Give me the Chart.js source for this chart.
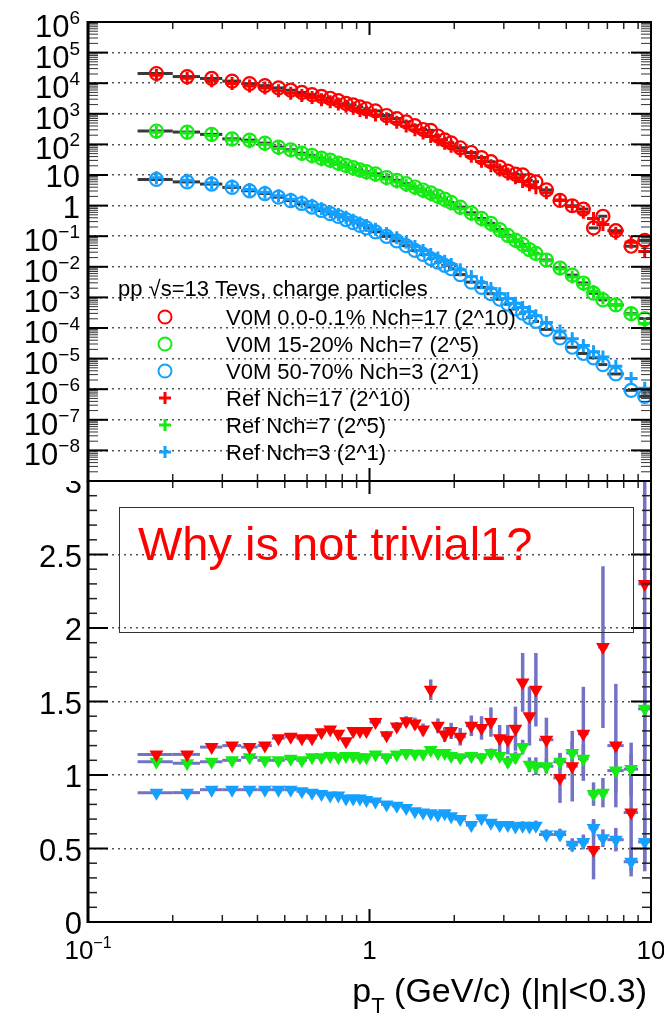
<!DOCTYPE html>
<html>
<head>
<meta charset="utf-8">
<title>pp 13 TeV charged particle spectra</title>
<script src="https://cdn.jsdelivr.net/npm/chart.js@4.4.0/dist/chart.umd.min.js"></script>
<style>
  html, body { margin: 0; padding: 0; background: #fff; }
  #wrap { position: relative; width: 664px; height: 1016px; overflow: hidden; }
  #wrap canvas { position: absolute; left: 0; }
  #spectra { top: 0; z-index: 2; }
  #ratio { top: 481px; z-index: 1; }
</style>
</head>
<body>
<div id="wrap">
  <canvas id="spectra" width="664" height="482"></canvas>
  <canvas id="ratio" width="664" height="535"></canvas>
</div>
<script>
const FONT = '"Liberation Sans", Arial, Helvetica, sans-serif';

// --- pT binning (GeV/c) ---
const ptEdges = [0.15, 0.2, 0.25, 0.3, 0.35, 0.4, 0.45, 0.5, 0.55, 0.6, 0.65, 0.7, 0.75, 0.8, 0.85, 0.9, 0.95, 1.0,
  1.1, 1.2, 1.3, 1.4, 1.5, 1.6, 1.7, 1.8, 1.9, 2.0, 2.2, 2.4, 2.6, 2.8, 3.0, 3.2, 3.4, 3.6, 3.8, 4.0,
  4.5, 5.0, 5.5, 6.0, 6.5, 7.0, 8.0, 9.0, 10.0];
const ptCenters = [0.175, 0.225, 0.275, 0.325, 0.375, 0.425, 0.475, 0.525, 0.575, 0.625, 0.675, 0.725, 0.775, 0.825, 0.875, 0.925, 0.975,
  1.05, 1.15, 1.25, 1.35, 1.45, 1.55, 1.65, 1.75, 1.85, 1.95,
  2.1, 2.3, 2.5, 2.7, 2.9, 3.1, 3.3, 3.5, 3.7, 3.9,
  4.25, 4.75, 5.25, 5.75, 6.25, 6.75, 7.5, 8.5, 9.5];

// --- spectra, V0M classes (scaled by 2^10, 2^5, 2^1) ---
const v0mHigh = [20750, 16470, 14300, 11720, 9670, 8300, 7030, 5900, 4980, 4240, 3720, 3220, 2680, 2190, 1960, 1680, 1460,
  1240, 879, 698, 543, 408, 307, 288, 188, 140, 113,
  77.7, 54.3, 37.2, 27.2, 18.1, 13.3, 10.7, 10.1, 6.71, 6.00,
  3.26, 1.48, 0.989, 0.772, 0.186, 0.449, 0.151, 0.0470, 0.0727];
const v0mMid = [274, 253, 213, 152, 138, 110, 81.5, 66.9, 51.5, 43.6, 35.4, 30.4, 24.5, 20.6, 17.5, 14.8, 12.9,
  10.9, 8.30, 6.71, 5.26, 4.06, 3.23, 2.62, 2.05, 1.62, 1.27,
  0.889, 0.580, 0.380, 0.263, 0.165, 0.107, 0.0747, 0.0538, 0.0367, 0.0276,
  0.0167, 0.00915, 0.00533, 0.00296, 0.00137, 0.00083, 0.000567, 0.000293, 0.000204];
const v0mLow = [7.15, 5.95, 5.06, 3.93, 3.05, 2.48, 1.88, 1.46, 1.17, 0.898, 0.691, 0.543, 0.441, 0.350, 0.278, 0.226, 0.186,
  0.139, 0.0984, 0.0704, 0.0489, 0.0344, 0.0253, 0.0186, 0.0142, 0.0112, 0.00864,
  0.00556, 0.00316, 0.00213, 0.00132, 0.000871, 0.000602, 0.000420, 0.000307, 0.000220, 0.000164,
  0.0000898, 0.0000472, 0.0000235, 0.0000147, 0.0000106, 0.00000638, 0.00000315, 0.000000918, 0.000000583];

// --- reference spectra at the same Nch ---
const refHigh = [18200, 14450, 12020, 9770, 8130, 6920, 5620, 4680, 3980, 3390, 2880, 2455, 2090, 1780, 1510, 1290, 1120,
  912, 692, 525, 398, 302, 234, 182, 141, 110, 87,
  61.7, 40.7, 28.2, 20.0, 14.5, 10.7, 8.13, 6.17, 4.79, 3.80,
  2.63, 1.51, 0.933, 0.603, 0.380, 0.240, 0.126, 0.0631, 0.0316];
const refMid = [251, 234, 195, 138, 123, 100, 74.1, 60.3, 46.8, 38.9, 31.6, 26.9, 21.9, 18.2, 15.5, 13.2, 11.5,
  9.55, 7.41, 5.89, 4.57, 3.55, 2.82, 2.24, 1.78, 1.41, 1.12,
  0.794, 0.513, 0.339, 0.229, 0.145, 0.0986, 0.0667, 0.0452, 0.0343, 0.0260,
  0.0157, 0.0084, 0.00463, 0.00266, 0.00157, 0.00095, 0.00055, 0.000282, 0.000141];
const refLow = [8.13, 6.76, 5.62, 4.37, 3.39, 2.75, 2.09, 1.62, 1.32, 1.02, 0.794, 0.631, 0.513, 0.417, 0.331, 0.269, 0.224,
  0.170, 0.123, 0.0891, 0.0631, 0.0457, 0.0339, 0.0251, 0.0195, 0.0151, 0.0120,
  0.00794, 0.00479, 0.00302, 0.00195, 0.00132, 0.000912, 0.000646, 0.000468, 0.000339, 0.000251,
  0.000151, 0.0000794, 0.0000447, 0.0000269, 0.0000166, 0.0000112, 0.00000562, 0.00000224, 0.00000107];

// --- ratios V0M / Ref with errors ---
const ratioHigh = [1.14, 1.14, 1.19, 1.20, 1.19, 1.20, 1.25, 1.26, 1.25, 1.25, 1.29, 1.31, 1.28, 1.23, 1.30, 1.30, 1.30,
  1.36, 1.27, 1.33, 1.365, 1.35, 1.31, 1.58, 1.335, 1.275, 1.30,
  1.26, 1.335, 1.32, 1.36, 1.25, 1.24, 1.315, 1.63, 1.40, 1.58,
  1.24, 0.98, 1.06, 1.28, 0.49, 1.87, 1.20, 0.745, 2.30];
const ratioHighErr = [0.01, 0.01, 0.01, 0.01, 0.01, 0.01, 0.015, 0.015, 0.015, 0.015, 0.02, 0.02, 0.02, 0.02, 0.02, 0.025, 0.025,
  0.03, 0.03, 0.03, 0.035, 0.04, 0.04, 0.07, 0.05, 0.05, 0.055,
  0.06, 0.07, 0.08, 0.10, 0.09, 0.10, 0.15, 0.20, 0.20, 0.25,
  0.15, 0.17, 0.24, 0.32, 0.20, 0.55, 0.42, 0.40, 1.9];
const ratioMid = [1.09, 1.08, 1.09, 1.10, 1.12, 1.10, 1.10, 1.11, 1.10, 1.12, 1.12, 1.13, 1.12, 1.13, 1.13, 1.12, 1.12,
  1.14, 1.12, 1.14, 1.15, 1.145, 1.145, 1.17, 1.15, 1.15, 1.13,
  1.12, 1.13, 1.12, 1.15, 1.13, 1.09, 1.12, 1.19, 1.07, 1.06,
  1.06, 1.09, 1.15, 1.11, 0.87, 0.88, 1.03, 1.04, 1.45];
const ratioMidErr = [0.005, 0.005, 0.005, 0.005, 0.005, 0.005, 0.005, 0.005, 0.005, 0.006, 0.006, 0.006, 0.007, 0.007, 0.007, 0.008, 0.008,
  0.01, 0.01, 0.01, 0.012, 0.012, 0.014, 0.015, 0.016, 0.018, 0.02,
  0.02, 0.025, 0.03, 0.03, 0.035, 0.04, 0.04, 0.05, 0.05, 0.06,
  0.05, 0.06, 0.08, 0.10, 0.08, 0.10, 0.15, 0.18, 0.35];
const ratioLow = [0.88, 0.88, 0.90, 0.90, 0.90, 0.90, 0.90, 0.90, 0.89, 0.88, 0.87, 0.86, 0.86, 0.84, 0.84, 0.84, 0.83,
  0.82, 0.80, 0.79, 0.775, 0.753, 0.745, 0.74, 0.73, 0.74, 0.72,
  0.70, 0.66, 0.705, 0.675, 0.66, 0.66, 0.65, 0.655, 0.65, 0.655,
  0.595, 0.595, 0.525, 0.545, 0.64, 0.57, 0.56, 0.41, 0.545];
const ratioLowErr = [0.004, 0.004, 0.004, 0.004, 0.004, 0.004, 0.004, 0.004, 0.004, 0.005, 0.005, 0.005, 0.005, 0.005, 0.006, 0.006, 0.006,
  0.007, 0.007, 0.008, 0.008, 0.009, 0.01, 0.01, 0.011, 0.012, 0.013,
  0.014, 0.016, 0.018, 0.02, 0.022, 0.025, 0.028, 0.03, 0.032, 0.035,
  0.035, 0.04, 0.045, 0.05, 0.06, 0.06, 0.08, 0.10, 0.20];

// --- axis ticks and texts ---
const spectraTicks = [1e6, 1e5, 1e4, 1e3, 1e2, 10, 1, 1e-1, 1e-2, 1e-3, 1e-4, 1e-5, 1e-6, 1e-7, 1e-8];
const spectraTickLabels = ['10^6', '10^5', '10^4', '10^3', '10^2', '10', '1', '10^-1', '10^-2', '10^-3', '10^-4', '10^-5', '10^-6', '10^-7', '10^-8'];
const ratioTicks = [0, 0.5, 1, 1.5, 2, 2.5, 3];
const ratioTickLabels = ['0', '0.5', '1', '1.5', '2', '2.5', '3'];
const ptTicks = [0.1, 1, 10];
const ptTickLabels = ['10^-1', '1', '10'];

const legendHeader = 'pp \u221As=13 Tevs, charge particles';
const legendLabels = ['V0M 0.0-0.1% Nch=17 (2^10)', 'V0M 15-20% Nch=7 (2^5)', 'V0M 50-70% Nch=3 (2^1)',
  'Ref Nch=17 (2^10)', 'Ref Nch=7 (2^5)', 'Ref Nch=3 (2^1)'];
const noteText = 'Why is not trivial1?';

const RED = '#ff0000';
const GREEN = 'rgb(20,235,20)';
const BLUE = 'rgb(20,160,255)';
const ERRCOL = 'rgb(115,115,198)';

function pts(vals) {
  return ptCenters.map((x, i) => ({ x: x, y: vals[i] }));
}

// minor ticks 2..9 x 10^n between lo and hi
function logMinors(lo, hi) {
  const out = [];
  for (let e = Math.floor(Math.log10(lo)); e <= Math.ceil(Math.log10(hi)); e++) {
    for (let k = 2; k <= 9; k++) {
      const v = k * Math.pow(10, e);
      if (v > lo && v < hi) out.push(v);
    }
  }
  return out;
}

function seg(ctx, x0, y0, x1, y1) {
  ctx.beginPath();
  ctx.moveTo(x0, y0);
  ctx.lineTo(x1, y1);
  ctx.stroke();
}

// "10^-3" -> 10 with raised exponent
function powerLabel(ctx, text, x, y, size, align) {
  const parts = text.split('^');
  const base = parts[0];
  const exp = parts.length > 1 ? parts[1].replace('-', '\u2212') : '';
  const sup = Math.round(size * 0.6);
  ctx.font = size + 'px ' + FONT;
  const wb = ctx.measureText(base).width;
  ctx.font = sup + 'px ' + FONT;
  const we = exp ? ctx.measureText(exp).width : 0;
  const x0 = align === 'right' ? x - wb - we : x - (wb + we) / 2;
  ctx.textAlign = 'left';
  ctx.textBaseline = 'alphabetic';
  ctx.font = size + 'px ' + FONT;
  ctx.fillText(base, x0, y);
  if (exp) {
    ctx.font = sup + 'px ' + FONT;
    ctx.fillText(exp, x0 + wb, y - size * 0.42);
  }
}

function drawXTicks(ctx, xs, yEdge, dir) {
  ctx.strokeStyle = '#222';
  ctx.lineWidth = 1.5;
  logMinors(0.1, 10).forEach(v => {
    const px = xs.getPixelForValue(v);
    seg(ctx, px, yEdge, px, yEdge + dir * 7);
  });
  ctx.strokeStyle = '#000';
  ctx.lineWidth = 2;
  const p1 = xs.getPixelForValue(1);
  seg(ctx, p1, yEdge, p1, yEdge + dir * 13);
}

function drawFrame(ctx, a) {
  ctx.strokeStyle = '#000';
  ctx.lineWidth = 2;
  ctx.strokeRect(a.left, a.top, a.right - a.left, a.bottom - a.top);
  ctx.lineWidth = 3;
  seg(ctx, a.left, a.top - 1, a.left, a.bottom + 1);
}

// bin-width (x) and statistical (y) error bars, drawn under the markers
const errorBars = {
  id: 'errorBars',
  beforeDatasetsDraw(chart) {
    const { ctx, chartArea: a } = chart;
    const xs = chart.scales.x, ys = chart.scales.y;
    ctx.save();
    ctx.beginPath();
    ctx.rect(a.left, a.top, a.right - a.left, a.bottom - a.top);
    ctx.clip();
    chart.data.datasets.forEach(ds => {
      const eb = ds.errorBars;
      if (!eb) return;
      ctx.strokeStyle = eb.color;
      ds.data.forEach((p, i) => {
        const px = xs.getPixelForValue(p.x);
        const py = ys.getPixelForValue(p.y);
        if (eb.xEdges) {
          ctx.lineWidth = eb.xWidth;
          seg(ctx, xs.getPixelForValue(eb.xEdges[i]), py, xs.getPixelForValue(eb.xEdges[i + 1]), py);
        }
        if (eb.yErr) {
          ctx.lineWidth = eb.yWidth;
          seg(ctx, px, ys.getPixelForValue(p.y - eb.yErr[i]), px, ys.getPixelForValue(p.y + eb.yErr[i]));
        }
      });
    });
    ctx.restore();
  }
};

// frame, inward ticks, labels and legend of the spectra pad
const spectraDecor = {
  id: 'spectraDecor',
  afterDraw(chart) {
    const { ctx, chartArea: a } = chart;
    const xs = chart.scales.x, ys = chart.scales.y;
    ctx.save();
    // y minor ticks
    ctx.strokeStyle = '#333';
    ctx.lineWidth = 1;
    logMinors(1e-9, 1e6).forEach(v => {
      const py = ys.getPixelForValue(v);
      seg(ctx, a.left, py, a.left + 10, py);
      seg(ctx, a.right - 10, py, a.right, py);
    });
    // y major ticks
    ctx.strokeStyle = '#000';
    ctx.lineWidth = 2;
    spectraTicks.forEach(v => {
      const py = ys.getPixelForValue(v);
      seg(ctx, a.left, py, a.left + 20, py);
      seg(ctx, a.right - 20, py, a.right, py);
    });
    drawXTicks(ctx, xs, a.top, 1);
    drawXTicks(ctx, xs, a.bottom, -1);
    drawFrame(ctx, a);

    // y tick labels
    ctx.fillStyle = '#000';
    spectraTicks.forEach((v, i) => {
      const py = ys.getPixelForValue(v);
      const lab = spectraTickLabels[i];
      powerLabel(ctx, lab, 80, py + (lab.indexOf('^') >= 0 ? 15 : 12), 31, 'right');
    });

    // legend
    ctx.font = '22px ' + FONT;
    ctx.textAlign = 'left';
    ctx.textBaseline = 'alphabetic';
    ctx.fillStyle = '#000';
    ctx.fillText(legendHeader, 118, 296);
    const cols = [RED, GREEN, BLUE, RED, GREEN, BLUE];
    legendLabels.forEach((lab, i) => {
      const cy = 317 + 27 * i;
      ctx.strokeStyle = cols[i];
      if (i < 3) {
        ctx.lineWidth = 2;
        ctx.beginPath();
        ctx.arc(165, cy, 6.5, 0, Math.PI * 2);
        ctx.stroke();
      } else {
        ctx.lineWidth = 3;
        seg(ctx, 159, cy, 171, cy);
        seg(ctx, 165, cy - 6, 165, cy + 6);
      }
      ctx.fillStyle = '#000';
      ctx.fillText(lab, 226, cy + 8);
    });
    ctx.restore();
  }
};

// frame, ticks, labels, axis title and note box of the ratio pad
const ratioDecor = {
  id: 'ratioDecor',
  afterDraw(chart) {
    const { ctx, chartArea: a } = chart;
    const xs = chart.scales.x, ys = chart.scales.y;
    ctx.save();
    ctx.strokeStyle = '#222';
    ctx.lineWidth = 1.5;
    for (let k = 1; k < 30; k++) {
      if (k % 5 === 0) continue;
      const py = ys.getPixelForValue(k / 10);
      seg(ctx, a.left, py, a.left + 9, py);
      seg(ctx, a.right - 9, py, a.right, py);
    }
    ctx.strokeStyle = '#000';
    ctx.lineWidth = 2;
    ratioTicks.forEach(v => {
      const py = ys.getPixelForValue(v);
      seg(ctx, a.left, py, a.left + 20, py);
      seg(ctx, a.right - 20, py, a.right, py);
    });
    drawXTicks(ctx, xs, a.top, 1);
    drawXTicks(ctx, xs, a.bottom, -1);
    drawFrame(ctx, a);

    ctx.fillStyle = '#000';
    ctx.font = '31px ' + FONT;
    ctx.textAlign = 'right';
    ctx.textBaseline = 'alphabetic';
    ratioTicks.forEach((v, i) => {
      ctx.fillText(ratioTickLabels[i], 82, ys.getPixelForValue(v) + 12);
    });
    ptTicks.forEach((v, i) => {
      powerLabel(ctx, ptTickLabels[i], xs.getPixelForValue(v), a.bottom + 37, 26, 'center');
    });

    // axis title p_T (GeV/c) (|eta|<0.3)
    const tail = ' (GeV/c) (|\u03B7|<0.3)';
    ctx.font = '34px ' + FONT;
    const wp = ctx.measureText('p').width;
    const wt = ctx.measureText(tail).width;
    ctx.font = '22px ' + FONT;
    const ws = ctx.measureText('T').width;
    const x0 = 647 - wp - ws - wt;
    const base = a.bottom + 80;
    ctx.textAlign = 'left';
    ctx.font = '34px ' + FONT;
    ctx.fillText('p', x0, base);
    ctx.fillText(tail, x0 + wp + ws, base);
    ctx.font = '22px ' + FONT;
    ctx.fillText('T', x0 + wp, base + 11);

    // note box
    const bx0 = xs.getPixelForValue(0.129), bx1 = xs.getPixelForValue(8.63);
    const by0 = ys.getPixelForValue(2.82), by1 = ys.getPixelForValue(1.97);
    ctx.strokeStyle = '#333';
    ctx.lineWidth = 1;
    ctx.strokeRect(Math.round(bx0) + 0.5, Math.round(by0) + 0.5, Math.round(bx1 - bx0), Math.round(by1 - by0));
    ctx.fillStyle = RED;
    ctx.font = '47px ' + FONT;
    ctx.fillText(noteText, xs.getPixelForValue(0.1505), ys.getPixelForValue(2.46));
    ctx.restore();
  }
};

function logX() {
  return {
    type: 'logarithmic', min: 0.1, max: 10,
    grid: { display: false }, border: { display: false }, ticks: { display: false },
    afterBuildTicks: s => { s.ticks = ptTicks.map(v => ({ value: v })); }
  };
}

function circleSet(label, vals, col) {
  return {
    label: label, data: pts(vals), order: 1,
    pointStyle: 'circle', pointRadius: 6.5, pointHoverRadius: 6.5, pointBorderWidth: 2.2,
    pointBorderColor: col, pointBackgroundColor: 'rgba(0,0,0,0)',
    errorBars: { xEdges: ptEdges, xWidth: 3, color: '#3a3a3a' }
  };
}

function crossSet(label, vals, col) {
  return {
    label: label, data: pts(vals), order: 0,
    pointStyle: 'cross', pointRadius: 6.5, pointHoverRadius: 6.5, pointBorderWidth: 3,
    pointBorderColor: col, pointBackgroundColor: col
  };
}

function ratioSet(label, vals, errs, col, ord) {
  return {
    label: label, data: pts(vals), order: ord,
    pointStyle: 'triangle', pointRotation: 180, pointRadius: 8, pointHoverRadius: 8, pointBorderWidth: 0,
    pointBorderColor: col, pointBackgroundColor: col,
    errorBars: { xEdges: ptEdges, xWidth: 3, yErr: errs, yWidth: 3.5, color: ERRCOL }
  };
}

const common = {
  responsive: false, animation: false, events: [],
  plugins: { legend: { display: false }, tooltip: { enabled: false } }
};

new Chart(document.getElementById('spectra'), {
  type: 'scatter',
  data: {
    datasets: [
      crossSet(legendLabels[3], refHigh, RED),
      crossSet(legendLabels[4], refMid, GREEN),
      crossSet(legendLabels[5], refLow, BLUE),
      circleSet(legendLabels[0], v0mHigh, RED),
      circleSet(legendLabels[1], v0mMid, GREEN),
      circleSet(legendLabels[2], v0mLow, BLUE)
    ]
  },
  options: Object.assign({}, common, {
    layout: { autoPadding: false, padding: { left: 0, right: 13, top: 22, bottom: 0 } },
    scales: {
      x: Object.assign(logX(), { afterFit: s => { s.height = 1; } }),
      y: {
        type: 'logarithmic', min: 1e-9, max: 1e6,
        grid: { color: '#555', lineWidth: 1.5, drawTicks: false },
        border: { display: false, dash: [2, 4] },
        ticks: { display: false },
        afterBuildTicks: s => { s.ticks = spectraTicks.map(v => ({ value: v })); },
        afterFit: s => { s.width = 88; }
      }
    }
  }),
  plugins: [errorBars, spectraDecor]
});

new Chart(document.getElementById('ratio'), {
  type: 'scatter',
  data: {
    datasets: [
      ratioSet('Nch=17', ratioHigh, ratioHighErr, RED, 0),
      ratioSet('Nch=7', ratioMid, ratioMidErr, GREEN, 1),
      ratioSet('Nch=3', ratioLow, ratioLowErr, BLUE, 2)
    ]
  },
  options: Object.assign({}, common, {
    layout: { autoPadding: false, padding: { left: 0, right: 13, top: 0, bottom: 0 } },
    scales: {
      x: Object.assign(logX(), { afterFit: s => { s.height = 94; } }),
      y: {
        type: 'linear', min: 0, max: 3,
        grid: { color: '#555', lineWidth: 1.5, drawTicks: false },
        border: { display: false, dash: [2, 4] },
        ticks: { display: false },
        afterBuildTicks: s => { s.ticks = ratioTicks.map(v => ({ value: v })); },
        afterFit: s => { s.width = 88; }
      }
    }
  }),
  plugins: [errorBars, ratioDecor]
});
</script>
</body>
</html>
